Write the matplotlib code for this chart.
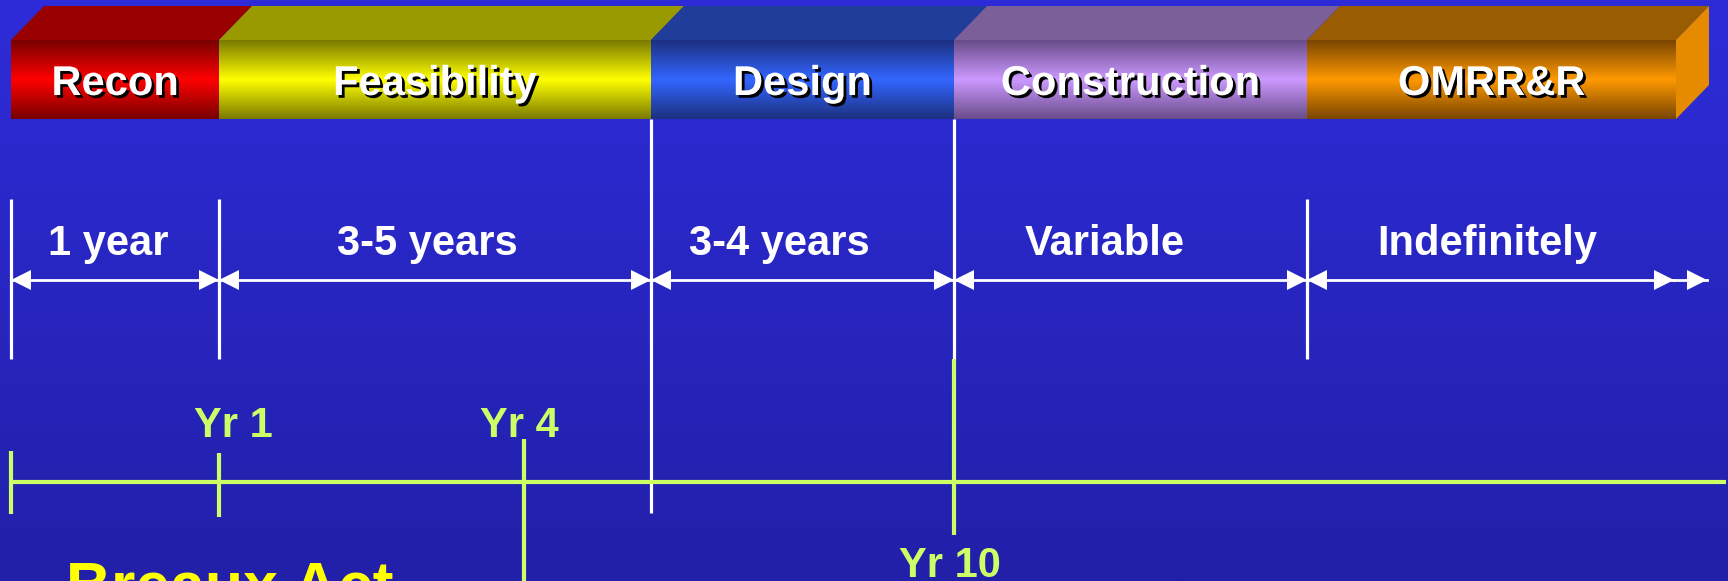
import numpy as np
import matplotlib
matplotlib.use('Agg')
import matplotlib.pyplot as plt
import matplotlib.patheffects as pe

# phases of the project, edges in diagram units (left to right)
phases = ['Recon', 'Feasibility', 'Design', 'Construction', 'OMRR&R']
phase_edges = [11, 219, 651, 954, 1307, 1676]

# duration row
durations = ['1 year', '3-5 years', '3-4 years', 'Variable', 'Indefinitely']
duration_edges = [11, 219, 651, 954, 1307, 1674]
duration_label_x = [108, 427, 779, 1105, 1487]

# milestone row
milestones = ['Yr 1', 'Yr 4', 'Yr 10']
milestone_x = [219, 524, 954]
milestone_label_x = [233, 519, 950]

# colours: (dark edge, bright centre, top face)
phase_colors = [
    ('#780000', '#ff0000', '#990000'),
    ('#7a7a00', '#ffff00', '#999900'),
    ('#1c3080', '#3366ff', '#1f3d99'),
    ('#684c8a', '#cc99ff', '#7a5f99'),
    ('#784500', '#ff9900', '#995c00'),
]
side_color = '#e68a00'
green = '#ccff66'
font = 'Liberation Sans'

W, H = 1728, 581
fig = plt.figure(figsize=(W / 100, H / 100), dpi=100)
ax = fig.add_axes([0, 0, 1, 1])

# background gradient
bg_top = np.array(matplotlib.colors.to_rgb('#2e2cd9'))
bg_bot = np.array(matplotlib.colors.to_rgb('#2220a8'))
t = np.linspace(0, 1, 256)[:, None, None]
bg = bg_top * (1 - t) + bg_bot * t
ax.imshow(bg, extent=(0, W, H, 0), origin='upper', aspect='auto', zorder=0)

# 3D bar
front_top, front_bot = 40, 119
dx, dy = 33, 34
prof = np.abs(np.linspace(-1, 1, 200))[:, None, None]
for i, name in enumerate(phases):
    x0, x1 = phase_edges[i], phase_edges[i + 1]
    dark, bright, topc = [np.array(matplotlib.colors.to_rgb(c)) for c in phase_colors[i]]
    grad = bright * (1 - prof) + dark * prof
    ax.imshow(grad, extent=(x0, x1, front_bot, front_top), origin='upper',
              aspect='auto', zorder=2)
    ax.fill([x0, x1, x1 + dx, x0 + dx], [front_top, front_top, front_top - dy, front_top - dy],
            color=topc, lw=0, zorder=2)
    ax.text((x0 + x1) / 2, 95, name, ha='center', va='baseline', color='white',
            fontsize=30, fontweight='bold', family=font, zorder=5,
            path_effects=[pe.withSimplePatchShadow(offset=(2, -2), shadow_rgbFace='black', alpha=1.0)])
xe = phase_edges[-1]
ax.fill([xe, xe + dx, xe + dx, xe], [front_top, front_top - dy, front_bot - dy, front_bot],
        color=side_color, lw=0, zorder=2)

# delimiters of the duration row
white_lw = 2.3
for x in duration_edges[:-1]:
    y_top = front_bot if x in (651, 954) else 199
    y_bot = 513 if x == 651 else 359
    ax.plot([x, x], [y_top, y_bot], color='white', lw=white_lw, zorder=3, solid_capstyle='butt')


def head(x_tip, direction, y=280, length=20, half=10):
    ax.fill([x_tip, x_tip - direction * length, x_tip - direction * length],
            [y, y - half, y + half], color='white', lw=0, zorder=4)


arrow_y = 280
for i, label in enumerate(durations):
    x0, x1 = duration_edges[i], duration_edges[i + 1]
    ax.plot([x0, x1], [arrow_y, arrow_y], color='white', lw=2, zorder=3)
    head(x0, -1)
    head(x1, 1)
    ax.text(duration_label_x[i], 255, label, ha='center', va='baseline', color='white',
            fontsize=30, fontweight='bold', family=font, zorder=5)
# extra head for "indefinitely"
ax.plot([duration_edges[-1], duration_edges[-1] + 33], [arrow_y, arrow_y], color='white', lw=2, zorder=3)
head(duration_edges[-1] + 33, 1)

# milestone timeline
line_y = 482
green_lw = 3
ax.plot([11, 1726], [line_y, line_y], color=green, lw=green_lw, zorder=3, solid_capstyle='butt')
ax.plot([11, 11], [451, 514], color=green, lw=green_lw, zorder=3, solid_capstyle='butt')
tick_spans = {'Yr 1': (453, 517), 'Yr 4': (439, 581), 'Yr 10': (359, 535)}
for label, x, lx in zip(milestones, milestone_x, milestone_label_x):
    y0, y1 = tick_spans[label]
    ax.plot([x, x], [y0, y1], color=green, lw=green_lw, zorder=3, solid_capstyle='butt')
    by = 577 if label == 'Yr 10' else 437
    ax.text(lx, by, label, ha='center', va='baseline', color=green,
            fontsize=30, fontweight='bold', family=font, zorder=5)

ax.text(66, 606, 'Breaux Act', ha='left', va='baseline', color='#ffff00',
        fontsize=45, fontweight='bold', family=font, zorder=5)

ax.set_xlim(0, W)
ax.set_ylim(H, 0)
ax.axis('off')
fig.savefig('out.png', dpi=100)
